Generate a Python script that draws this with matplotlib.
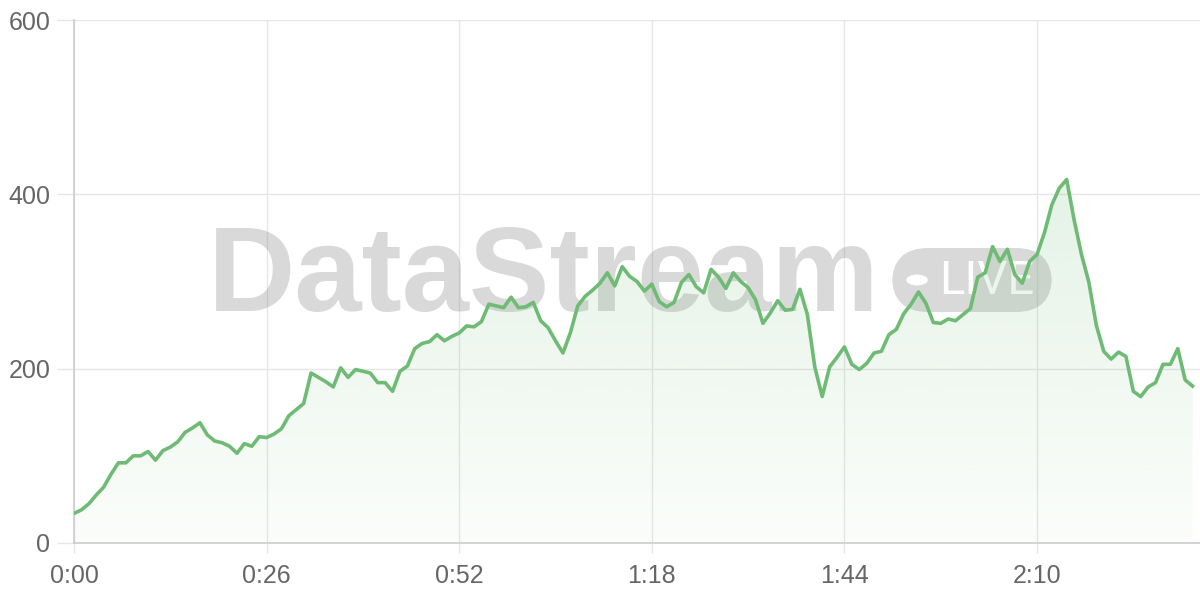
import matplotlib.pyplot as plt
import numpy as np
from matplotlib.patches import FancyBboxPatch, Circle, Polygon

# one sample per second
values = [
    34, 38, 45, 55, 64, 79, 92, 92, 100, 100,
    105, 95, 106, 110, 116, 127, 132, 138, 124, 117,
    115, 111, 103, 114, 111, 122, 121, 125, 131, 146,
    153, 160, 195, 190, 185, 179, 201, 190, 199, 197,
    195, 184, 184, 174, 197, 203, 223, 229, 231, 239,
    232, 237, 241, 249, 248, 254, 274, 272, 270, 282,
    270, 271, 276, 255, 247, 232, 218, 241, 272, 283,
    290, 298, 310, 295, 317, 306, 300, 289, 297, 277,
    271, 276, 299, 308, 294, 287, 314, 305, 292, 310,
    300, 293, 279, 252, 264, 278, 267, 268, 291, 262,
    202, 168, 202, 213, 225, 205, 199, 206, 218, 220,
    239, 245, 263, 274, 288, 275, 253, 252, 257, 255,
    262, 269, 305, 310, 340, 323, 337, 308, 298, 323,
    331, 356, 388, 407, 417, 371, 331, 299, 250, 220,
    211, 219, 214, 174, 168, 179, 184, 205, 205, 223,
    187, 180,
]
tick_pos = [0, 26, 52, 78, 104, 130]
tick_labels = ['0:00', '0:26', '0:52', '1:18', '1:44', '2:10']
y_ticks = [0, 200, 400, 600]

line_color = '#6fbb76'
grid_color = '#e6e6e6'
text_color = '#666666'

plt.rcParams['font.family'] = ['Liberation Sans', 'DejaVu Sans']

fig = plt.figure(figsize=(12, 6), dpi=100)
ax = fig.add_axes([74 / 1200, 1 - 543 / 600, 1 - 74 / 1200, (543 - 20) / 600])

x = np.arange(len(values))
y = np.array(values)

# watermark, sits under the data
ax.text(544 / 1200, 1 - 311 / 600, 'DataStream', transform=fig.transFigure,
        ha='center', va='baseline', fontsize=87, fontweight='bold',
        family='Liberation Sans', color='#8c8c8c', alpha=0.33, zorder=1)
badge = FancyBboxPatch((892 / 1200, 1 - 312 / 600), 160 / 1200, 64 / 600,
                       boxstyle='round,pad=0,rounding_size=0.03',
                       transform=fig.transFigure, facecolor='#8c8c8c',
                       edgecolor='none', alpha=0.33, zorder=1, clip_on=False,
                       mutation_aspect=2)
ax.add_patch(badge)
ax.add_patch(Circle((917 / 1200, 1 - 280 / 600), 0.009, transform=fig.transFigure,
                    facecolor='white', edgecolor='none', zorder=1.1, clip_on=False))
ax.text(987 / 1200, 1 - 281 / 600, 'LIVE', transform=fig.transFigure,
        ha='center', va='center', fontsize=34, family='Roboto',
        color='white', zorder=1.1)

# gradient fill under the line
grad = np.zeros((256, 1, 4))
rgb = np.array([111, 187, 118]) / 255
grad[:, 0, :3] = rgb
grad[:, 0, 3] = np.linspace(0.25, 0.03, 256)
poly = Polygon(np.vstack([[x[0], 0], np.column_stack([x, y]), [x[-1], 0]]),
               closed=True, facecolor='none', edgecolor='none')
ax.add_patch(poly)
im = ax.imshow(grad, extent=[0, x[-1], 0, 600], aspect='auto', origin='upper', zorder=2)
im.set_clip_path(poly)

ax.plot(x, y, color=line_color, lw=2.6, solid_joinstyle='round', zorder=3)

ax.set_xlim(0, 152)
ax.set_ylim(0, 600)
ax.set_xticks(tick_pos)
ax.set_xticklabels(tick_labels)
ax.set_yticks(y_ticks)
ax.grid(True, color=grid_color, lw=1)
ax.set_axisbelow(True)
for s in ['top', 'right']:
    ax.spines[s].set_visible(False)
for s in ['left', 'bottom']:
    ax.spines[s].set_color('#cccccc')
    ax.spines[s].set_linewidth(1.2)
ax.tick_params(axis='both', colors=grid_color, labelcolor=text_color,
               labelsize=18, width=1)
ax.tick_params(axis='y', length=12, pad=5)
ax.tick_params(axis='x', length=7, pad=8)

fig.savefig('out.png', dpi=100)
